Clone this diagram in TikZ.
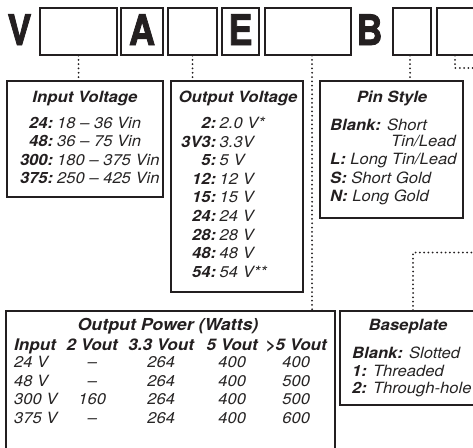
\documentclass[tikz,border=0pt]{standalone}
\usepackage{fontspec}
\setmainfont{TeX Gyre Heros}
\newfontfamily\heavy{texgyreheros-bold.otf}[FakeStretch=0.86,FakeBold=1.8]
\newfontfamily\body[FakeStretch=1.07]{TeX Gyre Heros}
\newfontfamily\ttl[FakeStretch=1.08]{TeX Gyre Heros}
\definecolor{ink}{HTML}{231F20}
\definecolor{grayink}{HTML}{262424}
\newcommand\mylab[2]{\makebox[#1][r]{\bfseries\color{ink}#2}}
\newcommand\mykey[1]{{\bfseries\color{ink}#1}}
\newcommand\mycell[2]{\makebox[#1][c]{#2}}
\begin{document}
\begin{tikzpicture}[x=1pt,y=-1pt,
  frame/.style={draw=ink, line width=1.1pt, inner sep=0pt, fill=white},
  dots/.style={draw=ink, line width=2pt, dash pattern=on 0pt off 4.3pt, line cap=round},
  big/.style={font=\heavy\fontsize{42}{42}\selectfont, inner sep=0pt, anchor=base, text=ink},
  ttlnode/.style={font=\ttl\bfseries\itshape\fontsize{15.5}{18.6}\selectfont, inner sep=0pt, anchor=base, text=ink},
  txt/.style={font=\body\itshape\fontsize{15.5}{18.4}\selectfont, inner sep=0pt, anchor=base west, text=grayink}
]
\useasboundingbox (0,0) rectangle (473,447);
\clip (0,0) rectangle (473,447);
\fill[white] (0,0) rectangle (473,447);

% top code boxes
\node[big] (lV) at (19.5,45) {V};
\node[frame, minimum width=77pt, minimum height=47pt] (b1) at (78.5,31.5) {};
\node[frame, minimum width=42pt, minimum height=47pt] (bA) at (142,31.5) {};
\node[big] (lA) at (142,45) {A};
\node[frame, minimum width=49pt, minimum height=47pt] (b3) at (192.5,31.5) {};
\node[frame, minimum width=37pt, minimum height=47pt] (bE) at (240.5,31.5) {};
\node[big] (lE) at (240.5,45) {E};
\node[frame, minimum width=86pt, minimum height=47pt] (b5) at (308,31.5) {};
\node[big] (lB) at (369.5,45) {B};
\node[frame, minimum width=38pt, minimum height=47pt] (bB) at (412,31.5) {};
\node[frame, minimum width=53pt, minimum height=47pt] (bL) at (463.5,31.5) {};

% description boxes
\node[frame, minimum width=156pt, minimum height=116pt] (iv) at (85,139) {};
\node[frame, minimum width=132pt, minimum height=211pt] (ov) at (237,186.5) {};
\node[frame, minimum width=143pt, minimum height=137pt] (ps) at (391.5,149.5) {};
\node[frame, minimum width=329pt, minimum height=144pt] (op) at (170.5,383) {};
\node[frame, minimum width=140pt, minimum height=94pt] (bp) at (410,358) {};

% connectors
\coordinate (e1) at (480,68);
\coordinate (e2) at (480,252.5);
\draw[dots] (b1.south) -- (b1.south |- iv.north);
\draw[dots] (b3.south) -- (b3.south |- ov.north);
\draw[dots] ([xshift=4pt]b5.south) -- ([xshift=4pt]b5.south |- op.north);
\draw[dots] ([xshift=-2pt]bB.south) -- ([xshift=-2pt]bB.south |- ps.north);
\draw[dots] ([xshift=-8.5pt]bL.south) |- (e1);
\draw[dots] (e2) -| ([xshift=3pt]bp.north);

% Input Voltage
\node[ttlnode] (ivt) at (85,102.5) {Input Voltage};
\node[txt] (ivx) at (7,128.5) {\begin{tabular}[t]{@{}l@{}}
\mylab{46pt}{24:}\hspace{4pt}18 – 36 Vin\\
\mylab{46pt}{48:}\hspace{4pt}36 – 75 Vin\\
\mylab{46pt}{300:}\hspace{4pt}180 – 375 Vin\\
\mylab{46pt}{375:}\hspace{4pt}250 – 425 Vin
\end{tabular}};

% Output Voltage
\node[ttlnode] (ovt) at (238,102.5) {Output Voltage};
\node[txt] (ovx) at (171,128.5) {\fontsize{15.5}{18.6}\selectfont\begin{tabular}[t]{@{}l@{}}
\mylab{45pt}{2:}\hspace{3.5pt}2.0 V*\\
\mylab{45pt}{3V3:}\hspace{3.5pt}3.3V\\
\mylab{45pt}{5:}\hspace{3.5pt}5 V\\
\mylab{45pt}{12:}\hspace{3.5pt}12 V\\
\mylab{45pt}{15:}\hspace{3.5pt}15 V\\
\mylab{45pt}{24:}\hspace{3.5pt}24 V\\
\mylab{45pt}{28:}\hspace{3.5pt}28 V\\
\mylab{45pt}{48:}\hspace{3.5pt}48 V\\
\mylab{45pt}{54:}\hspace{3.5pt}54 V**
\end{tabular}};

% Pin Style
\node[ttlnode] (pst) at (392,102.5) {Pin Style};
\node[txt] (psx) at (330,130.5) {\begin{tabular}[t]{@{}l@{}}
\mykey{Blank:} Short\\[-2.4pt]
\hspace{61pt}Tin/Lead\\
\mykey{L:} Long Tin/Lead\\
\mykey{S:} Short Gold\\
\mykey{N:} Long Gold
\end{tabular}};

% Baseplate
\node[ttlnode] (bpt) at (408,330.5) {Baseplate};
\node[txt] (bpx) at (352,358.5) {\fontsize{15.5}{17.5}\selectfont\begin{tabular}[t]{@{}l@{}}
\mykey{Blank:} Slotted\\
\mykey{1:} Threaded\\
\mykey{2:} Through-hole
\end{tabular}};

% Output Power
\node[ttlnode, font=\ttl\bfseries\itshape\fontsize{16.5}{18.6}\selectfont] (opt) at (168,330.5) {Output Power (Watts)};
\node[txt] (opx) at (14,350.5) {\fontsize{15.5}{18.7}\selectfont\begin{tabular}[t]{@{}l@{}}
{\fontsize{16}{18.7}\selectfont\color{ink}\bfseries\makebox[46pt][l]{Input}\mycell{64pt}{2 Vout}\mycell{74pt}{3.3 Vout}\mycell{68pt}{5 Vout}\mycell{60pt}{>5 Vout}}\\[-1.7pt]
\makebox[46pt][l]{24 V}\mycell{64pt}{–}\mycell{74pt}{264}\mycell{68pt}{400}\mycell{60pt}{400}\\
\makebox[46pt][l]{48 V}\mycell{64pt}{–}\mycell{74pt}{264}\mycell{68pt}{400}\mycell{60pt}{500}\\
\makebox[46pt][l]{300 V}\mycell{64pt}{160}\mycell{74pt}{264}\mycell{68pt}{400}\mycell{60pt}{500}\\
\makebox[46pt][l]{375 V}\mycell{64pt}{–}\mycell{74pt}{264}\mycell{68pt}{400}\mycell{60pt}{600}
\end{tabular}};
\end{tikzpicture}
\end{document}
